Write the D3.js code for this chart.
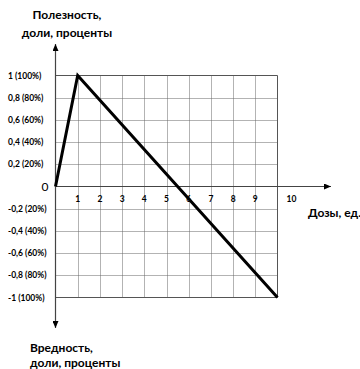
<!DOCTYPE html>
<html>
<head>
<meta charset="utf-8">
<script src="https://cdn.jsdelivr.net/npm/d3@7"></script>
<style>
  body { margin: 0; background: #fff; }
  text { font-family: Lato, "Open Sans", sans-serif; fill: #000; }
</style>
</head>
<body>
<div id="vis"></div>
<script>
// chart data
const doses = [0, 1, 10]
const utility = [0, 1, -1]
const xTicks = [1, 2, 3, 4, 5, 6, 7, 8, 9, 10]
const yTicks = [1, 0.8, 0.6, 0.4, 0.2, -0.2, -0.4, -0.6, -0.8, -1]
const yTickLabels = ['1 (100%)', '0,8 (80%)', '0,6 (60%)', '0,4 (40%)', '0,2 (20%)',
  '-0,2 (20%)', '-0,4 (40%)', '-0,6 (60%)', '-0,8 (80%)', '-1 (100%)']
const topTitle = ['Полезность,', 'доли, проценты']
const bottomTitle = ['Вредность,', 'доли, проценты']
const xTitle = 'Дозы, ед.'

const w = 360, h = 369

const svg = d3.select('#vis').append('svg').attr('width', w).attr('height', h)

const x = d3.scaleLinear().domain([0, 10]).range([55.5, 277.5])
const y = d3.scaleLinear().domain([-1, 1]).range([297.5, 75.5])

// dotted grid
svg.append('g')
  .selectAll('line')
  .data(xTicks.filter(d => d < 10))
  .enter()
  .append('line')
  .attr('x1', d => Math.round(x(d)) + 0.5)
  .attr('x2', d => Math.round(x(d)) + 0.5)
  .attr('y1', y(1))
  .attr('y2', y(-1))
  .attr('stroke', '#666')
  .attr('stroke-dasharray', '1,1')

svg.append('g')
  .selectAll('line')
  .data(yTicks.filter(d => Math.abs(d) < 1))
  .enter()
  .append('line')
  .attr('x1', x(0))
  .attr('x2', x(10))
  .attr('y1', d => Math.round(y(d)) + 0.5)
  .attr('y2', d => Math.round(y(d)) + 0.5)
  .attr('stroke', '#666')
  .attr('stroke-dasharray', '1,1')

// solid frame: top, bottom, right
const frame = [
  [x(0), y(1), x(10), y(1)],
  [x(0), y(-1), x(10), y(-1)],
  [x(10), y(1), x(10), y(-1)]
]
svg.append('g')
  .selectAll('line')
  .data(frame)
  .enter()
  .append('line')
  .attr('x1', d => d[0])
  .attr('y1', d => d[1])
  .attr('x2', d => d[2])
  .attr('y2', d => d[3])
  .attr('stroke', '#555')
  .attr('stroke-width', 1)

// arrow marker
svg.append('defs').append('marker')
  .attr('id', 'arrow')
  .attr('viewBox', '0 0 10 10')
  .attr('refX', 10)
  .attr('refY', 5)
  .attr('markerWidth', 7)
  .attr('markerHeight', 6)
  .attr('markerUnits', 'userSpaceOnUse')
  .attr('orient', 'auto')
  .attr('preserveAspectRatio', 'none')
  .append('path')
  .attr('d', 'M0,0L10,5L0,10Z')
  .attr('fill', '#000')

// axes
svg.append('line')
  .attr('x1', x(0)).attr('x2', 331)
  .attr('y1', y(0)).attr('y2', y(0))
  .attr('stroke', '#444').attr('stroke-width', 1.2)
  .attr('marker-end', 'url(#arrow)')

svg.append('line')
  .attr('x1', x(0)).attr('x2', x(0))
  .attr('y1', y(0)).attr('y2', 44)
  .attr('stroke', '#444').attr('stroke-width', 1.2)
  .attr('marker-end', 'url(#arrow)')

svg.append('line')
  .attr('x1', x(0)).attr('x2', x(0))
  .attr('y1', y(0)).attr('y2', 328)
  .attr('stroke', '#444').attr('stroke-width', 1.2)
  .attr('marker-end', 'url(#arrow)')

// utility line
const line = d3.line()
  .x((d, i) => x(d))
  .y((d, i) => y(utility[i]))

svg.append('path')
  .datum(doses)
  .attr('d', line)
  .attr('fill', 'none')
  .attr('stroke', '#000')
  .attr('stroke-width', 3)
  .attr('stroke-linejoin', 'miter')

// x tick labels
svg.append('g')
  .selectAll('text')
  .data(xTicks)
  .enter()
  .append('text')
  .attr('x', d => (d === 10 ? x(d) + 14 : x(d)))
  .attr('y', y(0) + 15)
  .attr('text-anchor', 'middle')
  .style('font-size', '8.5px')
  .style('font-weight', 'bold')
  .text(d => d)

// y tick labels
svg.append('g')
  .selectAll('text')
  .data(yTicks)
  .enter()
  .append('text')
  .attr('x', 8)
  .attr('y', d => y(d) + 3)
  .style('font-size', '8.5px')
  .style('font-weight', 'bold')
  .text((d, i) => yTickLabels[i])

svg.append('text')
  .attr('x', 45)
  .attr('y', y(0) + 4)
  .attr('text-anchor', 'middle')
  .style('font-size', '12px')
  .text('0')

// titles
svg.append('g')
  .selectAll('text')
  .data(topTitle)
  .enter()
  .append('text')
  .attr('x', 67)
  .attr('y', (d, i) => 19 + i * 18)
  .attr('text-anchor', 'middle')
  .style('font-size', '12px')
  .style('font-weight', 'bold')
  .text(d => d)

svg.append('g')
  .selectAll('text')
  .data(bottomTitle)
  .enter()
  .append('text')
  .attr('x', 30)
  .attr('y', (d, i) => 352 + i * 15)
  .style('font-size', '12px')
  .style('font-weight', 'bold')
  .text(d => d)

svg.append('text')
  .attr('x', 308)
  .attr('y', 217)
  .style('font-size', '12px')
  .style('font-weight', 'bold')
  .text(xTitle)
</script>
</body>
</html>
